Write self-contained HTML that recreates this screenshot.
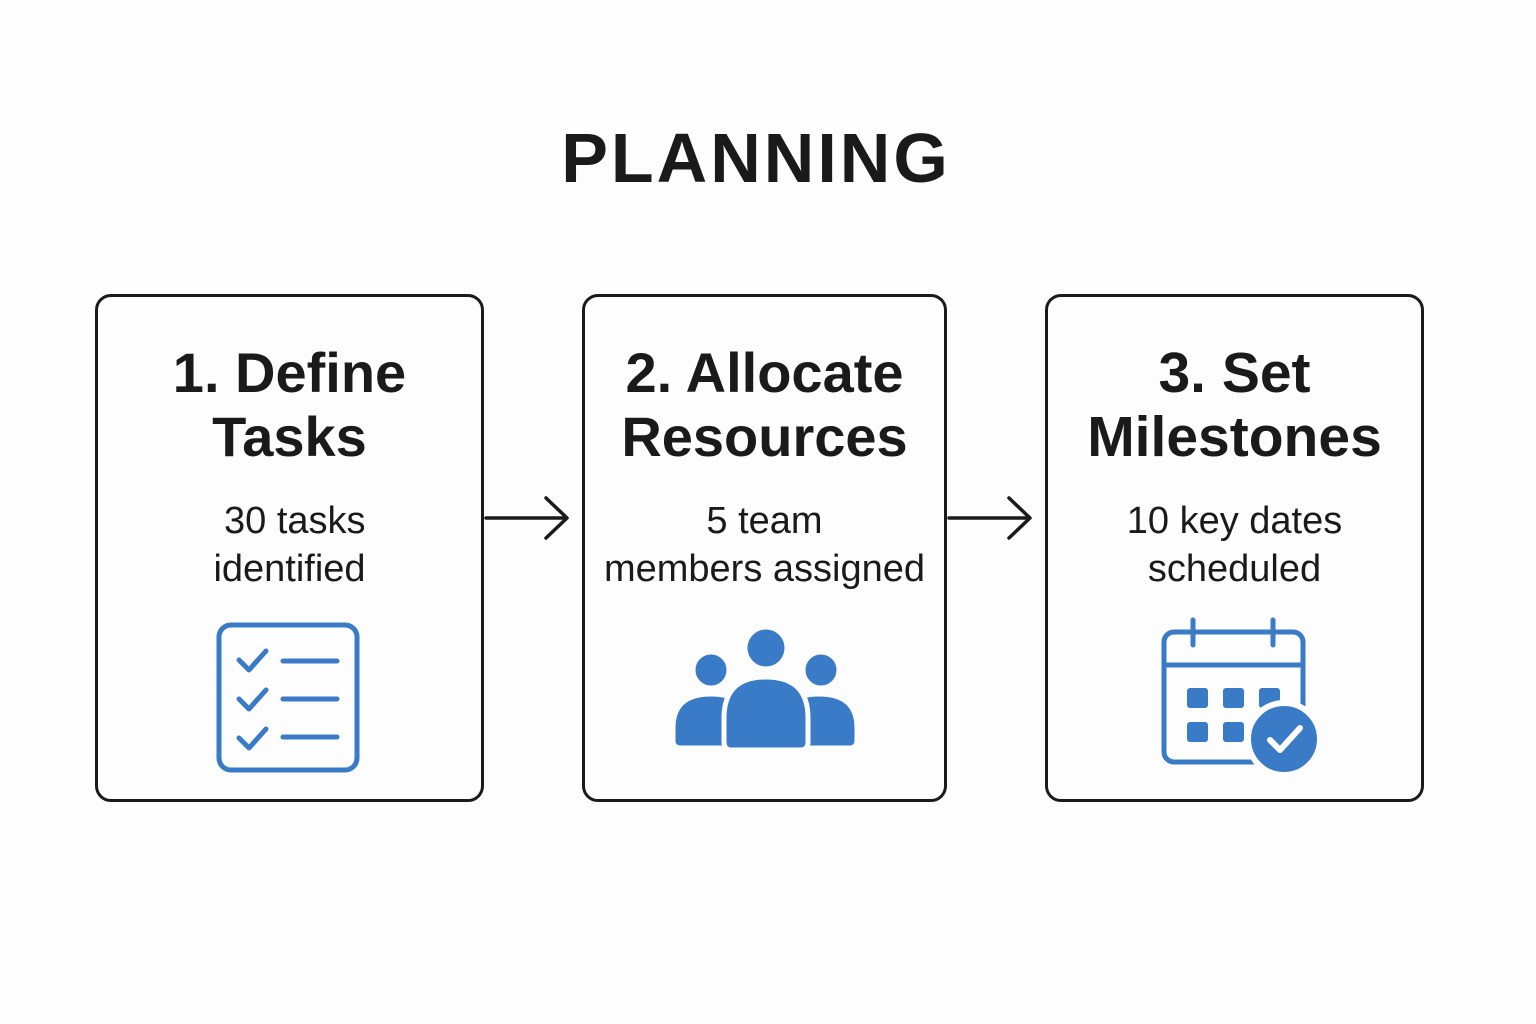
<!DOCTYPE html>
<html><head><meta charset="utf-8"><style>
html,body{margin:0;padding:0;background:#fdfdfd;}
body{width:1536px;height:1024px;position:relative;overflow:hidden;font-family:"Liberation Sans",sans-serif;color:#1a1a1a;}
.t{position:absolute;left:-12px;width:1536px;text-align:center;top:118px;font-size:70px;font-weight:bold;letter-spacing:3px;}
.box{position:absolute;top:294px;height:508px;border:3px solid #1a1a1a;border-radius:16px;box-sizing:border-box;background:#fdfdfd;}
.h{position:absolute;left:0;right:0;top:44px;text-align:center;font-size:56px;font-weight:bold;line-height:64px;}
.s{position:absolute;left:0;right:0;top:200px;text-align:center;font-size:38px;line-height:48px;}
svg{position:absolute;}
</style></head><body>
<div class="t">PLANNING</div>
<div class="box" style="left:95px;width:389px;"><div class="h">1. Define<br>Tasks</div><div class="s">&nbsp;30 tasks<br>identified</div></div>
<div class="box" style="left:582px;width:365px;"><div class="h">2. Allocate<br>Resources</div><div class="s">5 team<br>members assigned</div></div>
<div class="box" style="left:1045px;width:379px;"><div class="h" style="font-size:57px">3. Set<br>Milestones</div><div class="s">10 key dates<br>scheduled</div></div>
<svg width="1536" height="1024" style="left:0;top:0">
<g stroke="#1a1a1a" stroke-width="3.5" fill="none" stroke-linecap="round" stroke-linejoin="round">
<line x1="486" y1="518" x2="566" y2="518"/><polyline points="546,498 567,518 546,538"/>
<line x1="949" y1="518" x2="1029" y2="518"/><polyline points="1009,498 1030,518 1009,538"/>
</g>
<g stroke="#3a7bc8" stroke-width="5" fill="none" stroke-linecap="round" stroke-linejoin="round">
<rect x="219" y="625" width="138" height="145" rx="12"/>
<polyline points="239,660 249,670 266,651"/><line x1="283" y1="661" x2="337" y2="661"/>
<polyline points="239,699 249,709 266,690"/><line x1="283" y1="699" x2="337" y2="699"/>
<polyline points="239,738 249,748 266,729"/><line x1="283" y1="737" x2="337" y2="737"/>
</g>
<g fill="#3a7bc8" stroke="#fdfdfd" stroke-width="5">
<circle cx="711" cy="670" r="18"/><circle cx="821" cy="670" r="18"/>
<path d="M673,740 L673,728 Q673,694 711,694 Q749,694 749,728 L749,740 Q749,748 741,748 L681,748 Q673,748 673,740 Z"/>
<path d="M781,740 L781,728 Q781,694 819,694 Q857,694 857,728 L857,740 Q857,748 849,748 L789,748 Q781,748 781,740 Z"/>
<circle cx="766" cy="648" r="21"/>
<path d="M724,742 L724,718 Q724,677 766,677 Q808,677 808,718 L808,742 Q808,750 800,750 L732,750 Q724,750 724,742 Z"/>
</g>
<g stroke="#3a7bc8" stroke-width="5" fill="none" stroke-linecap="round">
<rect x="1164" y="632" width="139" height="130" rx="10"/>
<line x1="1164" y1="665" x2="1303" y2="665"/>
<line x1="1193" y1="620" x2="1193" y2="645"/><line x1="1273" y1="620" x2="1273" y2="645"/>
</g>
<g fill="#3a7bc8">
<rect x="1187" y="688" width="21" height="20" rx="3"/><rect x="1223" y="688" width="21" height="20" rx="3"/><rect x="1259" y="688" width="21" height="20" rx="3"/>
<rect x="1187" y="722" width="21" height="20" rx="3"/><rect x="1223" y="722" width="21" height="20" rx="3"/>
</g>
<circle cx="1284" cy="739" r="36" fill="#3a7bc8" stroke="#fdfdfd" stroke-width="6"/>
<polyline points="1270,740 1280,750 1300,728" stroke="#fff" stroke-width="6" fill="none" stroke-linecap="round" stroke-linejoin="round"/>
</svg>
</body></html>
